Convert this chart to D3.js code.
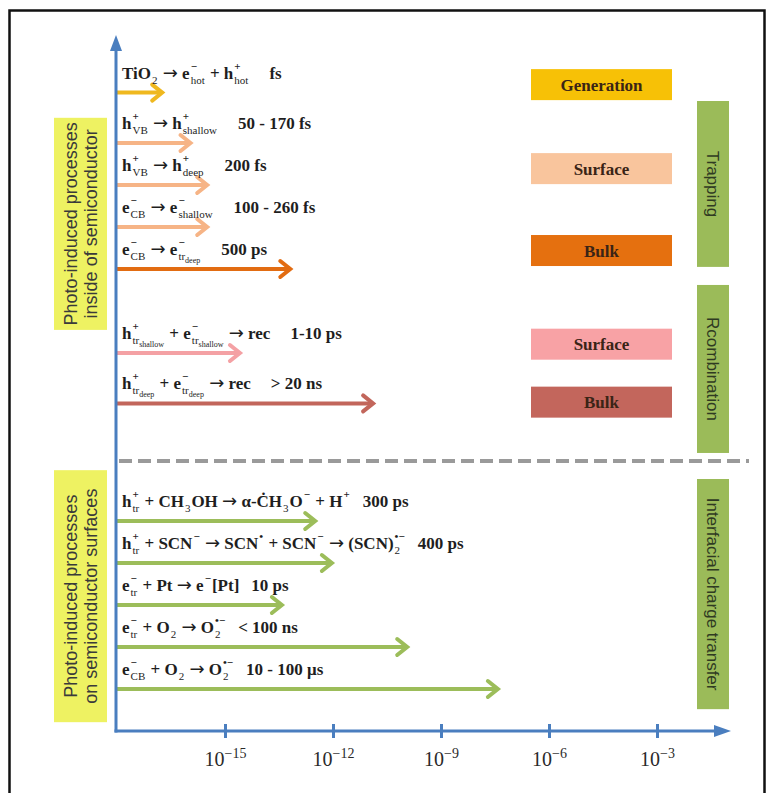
<!DOCTYPE html>
<html>
<head>
<meta charset="utf-8">
<script src="https://cdn.jsdelivr.net/npm/d3@7"></script>
<style>
  body { margin: 0; background: #fff; }
  svg text { white-space: pre; }
</style>
</head>
<body>
<timescale-chart></timescale-chart>
<script>
// process labels: ^{..} = superscript, _{..} = subscript, "|" inside a subscript = second level
const processLabels = [
  "TiO_{2} → e^{−}_{hot} + h^{+}_{hot}",
  "h^{+}_{VB} → h^{+}_{shallow}",
  "h^{+}_{VB} → h^{+}_{deep}",
  "e^{−}_{CB} → e^{−}_{shallow}",
  "e^{−}_{CB} → e^{−}_{tr|deep}",
  "h^{+}_{tr|shallow} + e^{−}_{tr|shallow} → rec",
  "h^{+}_{tr|deep} + e^{−}_{tr|deep} → rec",
  "h^{+}_{tr} + CH_{3}OH → α-ĊH_{3}O^{−} + H^{+}",
  "h^{+}_{tr} + SCN^{−} → SCN^{•} + SCN^{−} → (SCN)^{•−}_{2}",
  "e^{−}_{tr} + Pt → e^{−}[Pt]",
  "e^{−}_{tr} + O_{2} → O^{•−}_{2}",
  "e^{−}_{CB} + O_{2} → O^{•−}_{2}",
];
const processRates = [
  "fs", "50 - 170 fs", "200 fs", "100 - 260 fs", "500 ps", "1-10 ps", "> 20 ns",
  "300 ps", "400 ps", "10 ps", "< 100 ns", "10 - 100 μs",
];
// where each arrow stops on the log time axis (seconds)
const arrowEnds = [
  1.8e-17, 1.1e-16, 3.2e-16, 3.2e-16, 6.5e-14, 2.6e-15, 1.3e-11,
  3.2e-13, 9.3e-13, 3.8e-14, 1.15e-10, 3.8e-8,
];
const processRows = [-0.2, 1, 2, 3, 4, 6, 7.2, 10, 11, 12, 13, 14];
const processKinds = [
  "generation", "trapSurface", "trapSurface", "trapSurface", "trapBulk", "recSurface", "recBulk",
  "interfacial", "interfacial", "interfacial", "interfacial", "interfacial",
];

const tickValues = [1e-15, 1e-12, 1e-9, 1e-6, 1e-3];
const tickExponents = ["−15", "−12", "−9", "−6", "−3"];

const legendLabels = ["Generation", "Surface", "Bulk", "Surface", "Bulk"];
const legendKinds = ["generation", "trapSurface", "trapBulk", "recSurface", "recBulk"];
const legendRows = [-0.39, 1.61, 3.56, 5.79, 7.17];

const groupLabels = ["Trapping", "Rcombination", "Interfacial charge transfer"];
const groupRowSpans = [[0, 3.95], [4.38, 8.38], [9.0, 14.48]];

const sideLabels = [
  ["Photo-induced processes", "inside of semiconductor"],
  ["Photo-induced processes", "on semiconductor surfaces"],
];
const sideRowSpans = [[0.4, 5.45], [8.79, 14.79]];
const dividerRow = 8.57;

class TimescaleChart extends HTMLElement {
  connectedCallback() {
    this.innerHTML = `<div id="chart"></div>`;
    this.draw(d3.select("#chart"));
  }

  draw = (target) => {
    const cfg = {
      width: 775,
      height: 793,
      axisX: 116,
      axisY: 731,
      axisTop: 35,
      axisRight: 731,
      legend: { x: 531, width: 141, height: 31 },
      group: { x: 697, width: 32 },
      side: { x: 54, width: 53 },
      serif: "'Liberation Serif', 'Times New Roman', serif",
      sans: "'Liberation Sans', Arial, sans-serif",
    };

    const theme = {
      axis: "#4a7ebf",
      arrow: {
        generation: "#efb81f",
        trapSurface: "#f6b486",
        trapBulk: "#e26c12",
        recSurface: "#f4a1a4",
        recBulk: "#c2665b",
        interfacial: "#9cbd5a",
      },
      box: {
        generation: "#f7c106",
        trapSurface: "#f9c59d",
        trapBulk: "#e5700f",
        recSurface: "#f8a2a5",
        recBulk: "#c3665c",
      },
      green: "#9bbb59",
      yellow: "#eef262",
      text: "#1e1e1e",
    };

    const svg = target.append("svg")
      .attr("width", cfg.width)
      .attr("height", cfg.height)
      .style("display", "block");

    const x = d3.scaleLog().domain([1e-18, 1e-1]).range([cfg.axisX + 1, 729]);
    const y = d3.scaleLinear().domain([0, 14]).range([101, 689]);

    // outer frame
    svg.append("rect")
      .attr("x", 9.5).attr("y", 10.5)
      .attr("width", 755).attr("height", 800)
      .attr("fill", "none")
      .attr("stroke", "#111")
      .attr("stroke-width", 2.5);

    // -- side boxes (yellow) --
    sideLabels.forEach((lines, i) => {
      const y0 = y(sideRowSpans[i][0]);
      const y1 = y(sideRowSpans[i][1]);
      svg.append("rect")
        .attr("x", cfg.side.x).attr("y", y0)
        .attr("width", cfg.side.width).attr("height", y1 - y0)
        .attr("fill", theme.yellow);
      const cx = cfg.side.x + cfg.side.width / 2;
      const cy = (y0 + y1) / 2;
      const t = svg.append("text")
        .attr("transform", `translate(${cx},${cy}) rotate(-90)`)
        .attr("text-anchor", "middle")
        .style("font-family", cfg.sans)
        .style("font-size", "18px")
        .attr("fill", "#3a3a3a");
      lines.forEach((line, j) => {
        t.append("tspan")
          .attr("x", 0)
          .attr("y", (j - 0.5) * 20 + 6)
          .text(line);
      });
    });

    // -- group boxes (green, right) --
    groupLabels.forEach((label, i) => {
      const y0 = y(groupRowSpans[i][0]);
      const y1 = y(groupRowSpans[i][1]);
      svg.append("rect")
        .attr("x", cfg.group.x).attr("y", y0)
        .attr("width", cfg.group.width).attr("height", y1 - y0)
        .attr("fill", theme.green);
      svg.append("text")
        .attr("transform", `translate(${cfg.group.x + cfg.group.width / 2},${(y0 + y1) / 2}) rotate(90)`)
        .attr("text-anchor", "middle")
        .attr("dy", "0.35em")
        .style("font-family", cfg.sans)
        .style("font-size", "17px")
        .attr("fill", "#2f3a22")
        .text(label);
    });

    // -- legend boxes --
    legendLabels.forEach((label, i) => {
      const cy = y(legendRows[i]);
      svg.append("rect")
        .attr("x", cfg.legend.x).attr("y", cy - cfg.legend.height / 2)
        .attr("width", cfg.legend.width).attr("height", cfg.legend.height)
        .attr("fill", theme.box[legendKinds[i]]);
      svg.append("text")
        .attr("x", cfg.legend.x + cfg.legend.width / 2)
        .attr("y", cy + 6)
        .attr("text-anchor", "middle")
        .style("font-family", cfg.serif)
        .style("font-weight", "bold")
        .style("font-size", "17px")
        .attr("fill", "#3a2416")
        .text(label);
    });

    // dashed divider
    svg.append("line")
      .attr("x1", cfg.axisX + 3).attr("x2", 749)
      .attr("y1", y(dividerRow)).attr("y2", y(dividerRow))
      .attr("stroke", "#9a9a9a")
      .attr("stroke-width", 4)
      .attr("stroke-dasharray", "13,6");

    // -- process arrows --
    processLabels.forEach((label, i) => {
      const yy = y(processRows[i]);
      const xe = x(arrowEnds[i]);
      const col = theme.arrow[processKinds[i]];
      svg.append("line")
        .attr("x1", cfg.axisX).attr("x2", xe - 2)
        .attr("y1", yy).attr("y2", yy)
        .attr("stroke", col)
        .attr("stroke-width", 4);
      svg.append("polyline")
        .attr("points", `${xe - 10},${yy - 8} ${xe},${yy} ${xe - 10},${yy + 8}`)
        .attr("fill", "none")
        .attr("stroke", col)
        .attr("stroke-width", 4)
        .attr("stroke-linecap", "round");

      // label + rate
      const g = svg.append("g")
        .style("font-family", cfg.serif)
        .style("font-weight", "bold")
        .attr("fill", theme.text);
      const endX = this.drawRichText(g, label, 122, yy - 14, cfg);
      g.append("text")
        .attr("x", endX + (i >= 7 ? 12 : 20))
        .attr("y", yy - 14)
        .style("font-size", "17px")
        .text(processRates[i]);
    });

    // -- axes --
    svg.append("line")
      .attr("x1", cfg.axisX).attr("x2", cfg.axisX)
      .attr("y1", cfg.axisY + 1.5).attr("y2", cfg.axisTop + 12)
      .attr("stroke", theme.axis).attr("stroke-width", 3);
    svg.append("polygon")
      .attr("points", `${cfg.axisX},${cfg.axisTop} ${cfg.axisX - 6},${cfg.axisTop + 16} ${cfg.axisX + 6},${cfg.axisTop + 16}`)
      .attr("fill", theme.axis);
    svg.append("line")
      .attr("x1", cfg.axisX - 1.5).attr("x2", cfg.axisRight - 12)
      .attr("y1", cfg.axisY).attr("y2", cfg.axisY)
      .attr("stroke", theme.axis).attr("stroke-width", 3);
    svg.append("polygon")
      .attr("points", `${cfg.axisRight},${cfg.axisY} ${cfg.axisRight - 17},${cfg.axisY - 6} ${cfg.axisRight - 17},${cfg.axisY + 6}`)
      .attr("fill", theme.axis);

    const xAxis = d3.axisBottom(x).tickValues(tickValues).tickSize(14).tickFormat("");
    const gx = svg.append("g")
      .attr("transform", `translate(0,${cfg.axisY - 7})`)
      .call(xAxis);
    gx.select(".domain").remove();
    gx.selectAll(".tick line")
      .attr("stroke", theme.axis)
      .attr("stroke-width", 3);
    const tickText = gx.selectAll(".tick")
      .append("text")
      .attr("y", 42)
      .attr("text-anchor", "middle")
      .attr("fill", "#2a2a2a")
      .style("font-family", cfg.serif)
      .style("font-size", "20px");
    tickText.append("tspan").text("10");
    tickText.append("tspan")
      .attr("dy", -8)
      .style("font-size", "14px")
      .text((d, i) => tickExponents[i]);
  };

  // parse the tiny markup into base text chunks and script groups
  parseMarkup = (markup) => {
    const parts = markup.split(/(\^\{[^}]*\}|_\{[^}]*\}|→)/).filter((p) => p !== "");
    const tokens = [];
    parts.forEach((p) => {
      if (p.startsWith("^{") || p.startsWith("_{")) {
        const kind = p[0] === "^" ? "sup" : "sub";
        const body = p.slice(2, -1);
        const last = tokens[tokens.length - 1];
        if (last && last.type === "script" && !last[kind]) {
          last[kind] = body;
        } else {
          tokens.push({ type: "script", [kind]: body });
        }
      } else if (p === "→") {
        tokens.push({ type: "arrow" });
      } else {
        tokens.push({ type: "base", text: p });
      }
    });
    return tokens;
  };

  drawRichText = (g, markup, x0, baseline, cfg) => {
    let cx = x0;
    const put = (text, xx, yy, size, weight, family) => {
      const t = g.append("text")
        .attr("x", xx).attr("y", yy)
        .style("font-size", size + "px")
        .style("font-weight", weight || "bold")
        .text(text);
      if (family) t.style("font-family", family);
      return t.node().getComputedTextLength();
    };
    this.parseMarkup(markup).forEach((tok) => {
      if (tok.type === "base") {
        cx += put(tok.text, cx, baseline, 17);
      } else if (tok.type === "arrow") {
        cx += put("→", cx, baseline, 18, "normal", "'DejaVu Sans', sans-serif");
      } else {
        let w = 0;
        if (tok.sup) {
          w = Math.max(w, put(tok.sup, cx + 1, baseline - 9, 11));
        }
        if (tok.sub) {
          const [s1, s2] = tok.sub.split("|");
          let ws = put(s1, cx + 1, baseline + 5, 11, "normal");
          if (s2) ws += put(s2, cx + 1 + ws, baseline + 8, 8, "normal");
          w = Math.max(w, ws);
        }
        cx += w + 2;
      }
    });
    return cx;
  };
}

customElements.define("timescale-chart", TimescaleChart);
</script>
</body>
</html>
